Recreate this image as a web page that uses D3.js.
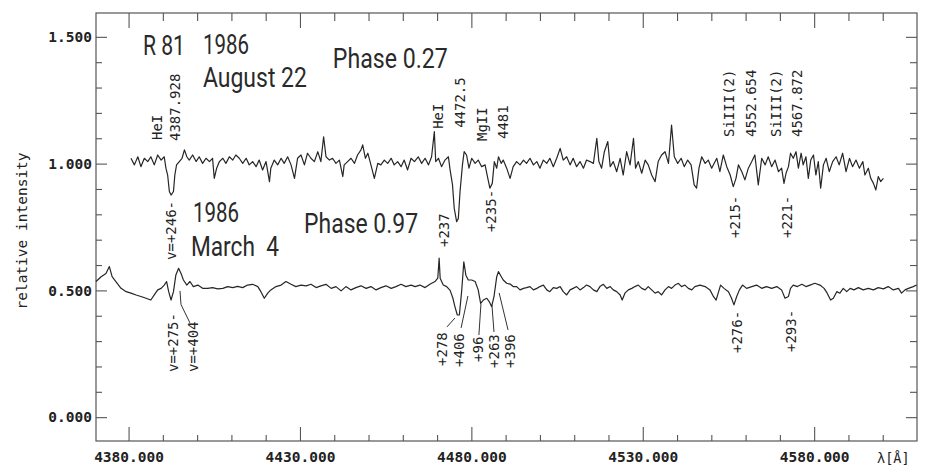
<!DOCTYPE html>
<html>
<head>
<meta charset="utf-8">
<script src="https://cdn.jsdelivr.net/npm/d3@7"></script>
<style>
  html, body { margin: 0; padding: 0; background: #fff; }
  svg { display: block; }
  .mono { font-family: "DejaVu Sans Mono", "Liberation Mono", monospace; fill: #222; }
  .big { font-family: Roboto, "DejaVu Sans Condensed", sans-serif; fill: #2a2a2a; white-space: pre; }
</style>
</head>
<body>
<svg id="chart" width="927" height="467"></svg>
<script>
// R 81 spectra: wavelength (Å), relative intensity
const upperSpectrum = [
  [4380.7,1.021],[4381.7,0.995],[4382.7,1.027],[4383.6,0.988],[4384.6,1.021],[4385.6,1.008],[4386.5,1.027],[4387.5,0.995],
  [4388.5,1.034],[4389.5,1.014],[4390.4,1.027],[4390.9,0.982],[4391.4,0.955],[4391.9,0.890],[4392.4,0.876],[4393.1,0.890],
  [4393.5,0.955],[4394.0,0.995],[4394.8,1.008],[4395.6,1.021],[4396.3,1.054],[4397.0,1.027],[4397.7,1.014],[4398.7,1.034],
  [4399.7,1.008],[4400.6,1.027],[4401.6,1.001],[4402.6,1.021],[4403.6,1.008],[4404.5,1.021],[4405.0,0.942],[4405.7,0.982],
  [4406.5,1.008],[4407.5,1.021],[4408.4,1.001],[4409.4,1.027],[4410.4,1.014],[4411.3,1.034],[4412.3,1.021],[4413.3,1.001],
  [4414.3,1.021],[4415.2,0.995],[4416.2,1.008],[4417.2,0.988],[4418.1,1.014],[4419.1,0.975],[4420.1,1.008],[4421.1,0.929],
  [4421.5,0.982],[4422.5,1.014],[4423.5,0.995],[4424.5,1.021],[4425.4,1.001],[4426.4,1.027],[4427.4,0.995],[4428.4,0.942],
  [4429.3,1.021],[4430.3,1.034],[4431.3,0.995],[4432.2,1.041],[4433.2,1.021],[4434.2,1.008],[4435.2,1.047],[4436.1,1.008],
  [4436.9,1.106],[4437.6,1.027],[4438.6,1.014],[4439.5,1.021],[4440.5,1.001],[4441.5,1.014],[4442.5,0.949],[4442.9,0.995],
  [4443.9,1.008],[4444.9,1.021],[4445.9,1.001],[4446.8,1.034],[4447.8,1.054],[4448.3,1.074],[4449.1,1.021],[4449.8,1.041],
  [4450.7,0.995],[4451.7,0.942],[4452.7,1.001],[4453.6,0.995],[4454.6,1.014],[4455.6,1.001],[4456.6,1.021],[4457.5,0.995],
  [4458.5,1.008],[4459.5,0.988],[4460.4,1.014],[4461.4,0.975],[4462.4,1.021],[4463.4,1.008],
  [4464.5,1.027],[4465.5,1.001],[4466.5,1.021],[4467.5,0.995],[4468.4,1.027],[4469.2,1.126],[4469.6,1.008],[4470.4,1.021],
  [4471.3,0.988],[4472.3,1.014],[4473.3,1.027],[4473.8,0.975],[4474.5,0.916],[4475.0,0.824],[4475.7,0.771],[4476.2,0.784],
  [4476.7,0.890],[4477.4,0.995],[4477.9,1.047],[4478.6,1.034],[4479.3,0.982],[4480.1,1.021],[4481.1,1.001],[4482.0,1.014],
  [4483.0,0.988],[4484.0,0.995],[4484.8,0.942],[4485.4,0.903],[4486.1,0.922],[4486.7,1.008],[4487.4,0.982],[4487.9,1.027],
  [4488.7,1.001],[4489.3,1.014],[4490.3,0.982],[4491.3,0.942],[4492.2,0.988],[4493.2,1.008],[4494.2,0.995],[4495.2,1.014],
  [4496.1,1.001],[4497.1,1.021],[4498.1,0.995],[4499.1,1.008],[4500.0,0.982],[4501.0,1.014],[4502.0,1.001],[4502.9,1.021],
  [4503.9,0.988],[4504.9,1.021],[4505.9,1.060],[4506.8,1.014],[4507.8,1.027],[4508.8,0.995],[4509.7,1.021],[4510.7,0.988],
  [4511.7,1.008],[4512.7,0.982],[4513.6,1.014],[4514.6,1.008],[4515.6,1.001],[4516.6,1.100],[4517.2,1.008],[4518.0,0.982],
  [4518.8,1.047],[4519.8,1.087],[4520.5,0.988],[4521.4,1.008],[4522.4,0.968],[4523.4,1.021],[4524.3,0.955],[4525.3,1.047],
  [4526.3,0.995],[4527.3,1.100],[4527.9,0.982],[4528.7,1.008],[4529.7,0.962],[4530.7,1.014],[4531.6,0.995],[4532.6,0.955],
  [4533.6,0.929],[4534.5,1.008],[4535.5,1.034],[4536.5,1.047],[4537.5,1.001],[4538.4,1.152],[4539.2,1.027],[4540.2,1.001],
  [4541.2,1.021],[4542.1,0.988],[4543.1,1.014],[4544.1,0.995],[4545.0,0.916],[4545.7,0.903],[4546.4,0.982],[4547.2,1.027],
  [4548.2,1.001],[4549.1,1.014],[4550.1,0.982],[4551.1,1.008],
  [4551.6,1.021],[4552.5,0.968],[4553.5,1.034],[4554.5,0.988],[4555.5,0.955],[4556.4,0.909],[4557.2,0.942],[4557.9,0.995],
  [4558.9,0.968],[4559.8,0.936],[4560.8,0.982],[4561.8,1.008],[4562.7,1.034],[4563.7,0.916],[4564.7,1.021],[4565.7,0.995],
  [4566.6,1.027],[4567.6,0.988],[4568.6,1.014],[4569.6,0.968],[4570.5,0.982],[4571.2,0.922],[4571.8,0.962],[4572.5,0.988],
  [4573.1,1.041],[4573.9,1.021],[4574.7,1.047],[4575.4,0.982],[4576.2,1.041],[4576.8,0.995],[4577.6,1.027],[4578.3,0.942],
  [4579.0,1.014],[4579.8,1.034],[4580.5,0.955],[4581.2,1.008],[4581.9,0.903],[4582.7,0.995],[4583.5,1.021],[4584.4,0.968],
  [4585.4,1.008],[4586.4,1.027],[4587.3,0.995],[4588.3,1.041],[4589.3,0.968],[4590.3,1.021],[4591.2,0.988],[4592.2,1.014],
  [4593.2,0.982],[4594.2,1.008],[4594.8,0.955],[4595.8,0.982],[4596.5,0.942],[4597.3,0.922],[4598.0,0.896],[4598.7,0.949],
  [4599.4,0.929],[4600.2,0.942]
];

const lowerSpectrum = [
  [4370.5,0.535],[4372.0,0.554],[4373.4,0.567],[4374.4,0.594],[4375.2,0.554],[4376.3,0.535],[4377.8,0.508],[4379.3,0.495],
  [4380.7,0.489],[4382.2,0.482],[4383.6,0.476],[4385.1,0.469],[4386.5,0.462],[4387.5,0.482],[4388.5,0.502],[4389.5,0.508],
  [4390.4,0.521],[4391.1,0.535],[4391.7,0.495],[4392.4,0.462],[4393.1,0.495],[4393.8,0.561],[4394.6,0.587],[4395.3,0.567],
  [4396.0,0.541],[4397.0,0.521],[4397.9,0.535],[4398.9,0.515],[4400.2,0.521],[4401.6,0.508],[4403.1,0.508],[4404.5,0.511],
  [4406.0,0.506],[4407.5,0.508],[4408.9,0.515],[4410.4,0.511],[4411.8,0.516],[4413.3,0.511],[4414.7,0.521],[4416.2,0.524],
  [4417.7,0.515],[4418.6,0.495],[4419.6,0.469],[4420.6,0.489],[4421.5,0.502],[4423.0,0.515],[4424.5,0.521],[4425.9,0.535],
  [4427.4,0.524],[4428.8,0.515],[4430.3,0.521],[4431.8,0.518],[4433.2,0.524],[4434.7,0.511],[4436.1,0.518],[4437.6,0.524],
  [4439.1,0.508],[4440.5,0.515],[4442.0,0.498],[4443.4,0.515],[4444.9,0.502],[4446.3,0.511],[4447.8,0.518],[4449.3,0.508],
  [4450.7,0.515],[4452.2,0.502],[4453.6,0.511],[4455.1,0.518],[4456.6,0.508],[4458.0,0.515],[4459.5,0.524],[4460.9,0.515],
  [4462.4,0.521],[4463.6,0.515],[4465.0,0.521],[4466.5,0.511],[4467.9,0.524],[4469.4,0.535],[4470.2,0.548],[4470.6,0.627],
  [4470.9,0.548],[4471.8,0.521],[4472.8,0.515],[4473.8,0.500],[4474.6,0.470],[4475.2,0.436],[4475.9,0.403],[4476.5,0.403],
  [4477.2,0.502],[4477.8,0.613],[4478.4,0.560],[4479.1,0.541],[4480.1,0.541],[4481.1,0.535],[4482.0,0.502],[4482.7,0.449],
  [4483.5,0.462],[4484.5,0.469],[4485.2,0.456],[4485.9,0.436],[4486.6,0.475],[4487.4,0.554],[4487.9,0.574],[4488.7,0.555],
  [4489.3,0.541],[4490.3,0.528],[4491.3,0.525],[4492.2,0.515],[4493.2,0.515],[4494.2,0.502],[4495.2,0.508],[4496.1,0.511],
  [4497.1,0.515],[4498.1,0.502],[4499.1,0.508],[4500.0,0.515],[4501.0,0.521],[4502.0,0.502],[4502.9,0.495],[4503.9,0.511],
  [4504.9,0.508],[4505.9,0.515],[4506.8,0.495],[4507.8,0.482],[4508.8,0.502],[4509.7,0.508],[4510.7,0.515],[4511.7,0.502],
  [4512.7,0.511],[4513.6,0.521],[4514.6,0.515],[4515.6,0.502],[4516.6,0.495],[4517.5,0.515],[4518.5,0.524],[4519.5,0.508],
  [4520.5,0.515],[4521.4,0.502],[4522.4,0.495],[4523.4,0.482],[4524.0,0.462],[4524.8,0.489],[4525.8,0.502],[4526.8,0.508],
  [4527.7,0.515],[4528.7,0.521],[4529.7,0.508],[4530.7,0.502],[4531.6,0.515],[4532.6,0.502],[4533.6,0.489],[4534.5,0.495],
  [4535.5,0.482],[4536.5,0.502],[4537.5,0.515],[4538.4,0.508],[4539.4,0.521],[4540.4,0.528],[4541.3,0.515],[4542.3,0.521],
  [4543.3,0.508],[4544.3,0.502],[4545.2,0.515],[4546.7,0.521],[4548.2,0.515],[4549.6,0.502],[4550.6,0.476],[4551.4,0.462],
  [4552.0,0.489],[4552.7,0.521],[4553.7,0.508],[4555.0,0.495],[4555.9,0.469],[4556.6,0.443],[4557.4,0.476],[4558.2,0.502],
  [4559.1,0.521],[4560.3,0.508],[4561.8,0.515],[4563.2,0.521],[4564.7,0.508],[4566.1,0.515],[4567.6,0.508],[4569.1,0.515],
  [4570.5,0.502],[4571.5,0.469],[4572.5,0.476],[4573.1,0.508],[4573.9,0.521],[4575.1,0.515],[4576.4,0.524],[4577.6,0.515],
  [4578.8,0.521],[4580.2,0.528],[4581.7,0.521],[4582.9,0.508],[4583.8,0.489],[4584.8,0.462],[4585.6,0.469],[4586.6,0.495],
  [4587.5,0.489],[4588.5,0.508],[4589.5,0.495],[4590.5,0.508],[4591.6,0.502],[4592.9,0.511],[4594.3,0.502],[4595.8,0.508],
  [4597.3,0.502],[4598.7,0.511],[4600.2,0.506],[4601.6,0.515],[4603.1,0.502],[4604.6,0.508],[4605.5,0.489],[4606.5,0.502],
  [4607.5,0.508],[4608.9,0.515],[4609.9,0.521]
];

// Axis ticks
const xMajorTicks = [4380, 4430, 4480, 4530, 4580];
const xMinorTicks = [4390, 4400, 4410, 4420, 4440, 4450, 4460, 4470, 4490, 4500, 4510, 4520, 4540, 4550, 4560, 4570, 4590, 4600];
const yMajorTicks = [0, 0.5, 1.0, 1.5];
const yMinorTicks = [0.1, 0.2, 0.3, 0.4, 0.6, 0.7, 0.8, 0.9, 1.1, 1.2, 1.3, 1.4];

// Line identifications (label text, wavelength of label, intensity where the text starts)
const lineIds = [
  ["HeI", 4388.3, 1.093], ["4387.928", 4393.5, 1.089],
  ["HeI", 4470.3, 1.137], ["4472.5", 4476.7, 1.141],
  ["MgII", 4483.1, 1.089], ["4481", 4489.2, 1.097],
  ["SiIII(2)", 4555.2, 1.105], ["4552.654", 4561.6, 1.105],
  ["SiIII(2)", 4568.9, 1.105], ["4567.872", 4575.0, 1.105]
];

// Radial velocity marks (km/s)
const velocityLabels = [
  ["v=+246-", 4392.4, 0.620], ["+237", 4472.0, 0.671], ["+235-", 4485.7, 0.730],
  ["+215-", 4556.9, 0.707], ["+221-", 4572.1, 0.707],
  ["v=+275-", 4393.0, 0.178], ["v=+404", 4398.8, 0.178],
  ["+278", 4471.4, 0.202], ["+406", 4476.4, 0.198], ["+96", 4481.9, 0.218],
  ["+263", 4486.6, 0.194], ["+396", 4491.3, 0.194],
  ["+276-", 4557.5, 0.253], ["+293-", 4573.2, 0.257]
];

// Leader lines from absorption components to their velocity labels
const leaderLines = [
  [[4395.0, 0.498], [4395.3, 0.444], [4397.9, 0.372]],
  [[4475.2, 0.391], [4472.9, 0.356]],
  [[4479.0, 0.478], [4477.0, 0.352]],
  [[4482.8, 0.447], [4482.2, 0.324]],
  [[4486.0, 0.443], [4486.6, 0.336]],
  [[4488.1, 0.490], [4490.7, 0.344]]
];

// Headings: [text, wavelength of left edge, intensity of baseline]
const headings = [
  ["R 81", 4384.2, 1.428], ["1986", 4401.7, 1.432], ["August 22", 4401.7, 1.302],
  ["Phase 0.27", 4439.6, 1.377],
  ["1986", 4398.8, 0.770], ["March  4", 4398.2, 0.636],
  ["Phase 0.97", 4431.2, 0.727]
];
const headingWidths = {"R 81": 42, "1986": 46, "August 22": 104, "Phase 0.27": 115, "March  4": 88, "Phase 0.97": 114};

const svg = d3.select("#chart");
const plotLeft = 96, plotRight = 917, plotTop = 13, plotBottom = 441;

const x = d3.scaleLinear().domain([4370.5, 4610]).range([plotLeft, plotRight]);
const y = d3.scaleLinear().domain([-0.094, 1.594]).range([plotBottom, plotTop]);

// frame
svg.append("rect")
  .attr("x", plotLeft).attr("y", plotTop)
  .attr("width", plotRight - plotLeft).attr("height", plotBottom - plotTop)
  .attr("fill", "none").attr("stroke", "#555").attr("stroke-width", 1.2);

function styleAxis(g) {
  g.select(".domain").remove();
  g.selectAll(".tick line").attr("stroke", "#555").attr("stroke-width", 1.1);
}

// bottom axis
svg.append("g").attr("transform", `translate(0,${plotBottom})`)
  .call(d3.axisBottom(x).tickValues(xMajorTicks).tickSize(-14).tickPadding(11).tickFormat(d3.format(".3f")))
  .call(styleAxis)
  .call(g => g.selectAll("text").attr("class", "mono").style("font-size", "14.5px").style("font-weight", "bold").attr("fill", "#222"));
svg.append("g").attr("transform", `translate(0,${plotBottom})`)
  .call(d3.axisBottom(x).tickValues(xMinorTicks).tickSize(-6).tickFormat(""))
  .call(styleAxis);

// top axis
svg.append("g").attr("transform", `translate(0,${plotTop})`)
  .call(d3.axisTop(x).tickValues(xMajorTicks).tickSize(-15).tickFormat(""))
  .call(styleAxis);
svg.append("g").attr("transform", `translate(0,${plotTop})`)
  .call(d3.axisTop(x).tickValues(xMinorTicks).tickSize(-8).tickFormat(""))
  .call(styleAxis);

// left axis
svg.append("g").attr("transform", `translate(${plotLeft},0)`)
  .call(d3.axisLeft(y).tickValues(yMajorTicks).tickSize(-11).tickPadding(4).tickFormat(d3.format(".3f")))
  .call(styleAxis)
  .call(g => g.selectAll("text").attr("class", "mono").style("font-size", "14.5px").style("font-weight", "bold").attr("fill", "#222"));
svg.append("g").attr("transform", `translate(${plotLeft},0)`)
  .call(d3.axisLeft(y).tickValues(yMinorTicks).tickSize(-6).tickFormat(""))
  .call(styleAxis);

// right axis
svg.append("g").attr("transform", `translate(${plotRight},0)`)
  .call(d3.axisRight(y).tickValues(yMajorTicks).tickSize(-11).tickFormat(""))
  .call(styleAxis);
svg.append("g").attr("transform", `translate(${plotRight},0)`)
  .call(d3.axisRight(y).tickValues(yMinorTicks).tickSize(-7).tickFormat(""))
  .call(styleAxis);

// axis titles
svg.append("text").attr("class", "mono")
  .attr("transform", `translate(27,${(plotTop + plotBottom) / 2 + 4}) rotate(-90)`)
  .attr("text-anchor", "middle")
  .style("font-size", "14.5px")
  .text("relative intensity");
svg.append("text").attr("class", "mono")
  .attr("x", 877).attr("y", 463)
  .style("font-size", "13.5px")
  .text("λ[Å]");

// spectra
const line = d3.line().x(d => x(d[0])).y(d => y(d[1]));
svg.append("path").datum(upperSpectrum)
  .attr("d", line).attr("fill", "none").attr("stroke", "#262626").attr("stroke-width", 1.2).attr("stroke-linejoin", "round");
svg.append("path").datum(lowerSpectrum)
  .attr("d", line).attr("fill", "none").attr("stroke", "#262626").attr("stroke-width", 1.2).attr("stroke-linejoin", "round");

// leader lines
svg.selectAll(".leader").data(leaderLines).join("path")
  .attr("class", "leader")
  .attr("d", line).attr("fill", "none").attr("stroke", "#333").attr("stroke-width", 1);

// vertical labels
function verticalLabels(data, cls) {
  svg.selectAll("." + cls).data(data).join("text")
    .attr("class", "mono " + cls)
    .attr("transform", d => `translate(${x(d[1])},${y(d[2])}) rotate(-90)`)
    .attr("dominant-baseline", "central")
    .style("font-size", "14px")
    .text(d => d[0]);
}
verticalLabels(lineIds, "lineid");
verticalLabels(velocityLabels, "vel");

// headings
svg.selectAll(".heading").data(headings).join("text")
  .attr("class", "big heading")
  .attr("x", d => x(d[1]))
  .attr("y", d => y(d[2]))
  .attr("textLength", d => headingWidths[d[0]])
  .attr("lengthAdjust", "spacingAndGlyphs")
  .style("font-size", "28px")
  .text(d => d[0]);
</script>
</body>
</html>
